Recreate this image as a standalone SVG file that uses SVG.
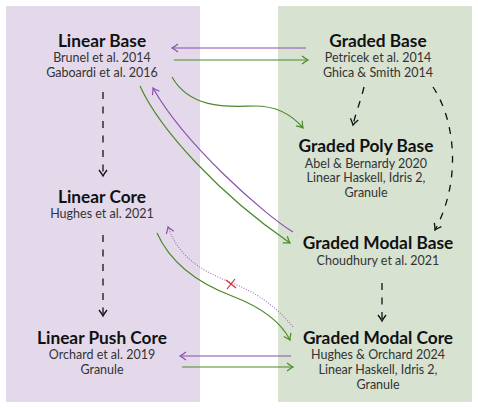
<svg xmlns="http://www.w3.org/2000/svg" width="478" height="408" viewBox="0 0 478 408">
<style>
.t{font-family:Lato,"Open Sans","DejaVu Sans",sans-serif;font-weight:bold;font-size:17.3px;fill:#111;text-anchor:middle}
.s{font-family:Lato,"Open Sans","DejaVu Sans",sans-serif;font-size:12.5px;fill:#333;text-anchor:middle}
.p{fill:none;stroke:#8a4fae;stroke-width:1.2}
.g{fill:none;stroke:#4a8a2a;stroke-width:1.2}
.d{fill:none;stroke:#111;stroke-width:1.3;stroke-dasharray:7 7.5}
.pd{fill:none;stroke:#9a6cc0;stroke-width:1.1;stroke-dasharray:1 1.6}
</style>
<defs>
<marker id="ap" viewBox="-8 -6 10 12" markerWidth="10" markerHeight="12" refX="0" refY="0" orient="auto" markerUnits="userSpaceOnUse"><path d="M-6,-4 Q-2,-1 0,0 Q-2,1 -6,4" fill="none" stroke="#8a4fae" stroke-width="1.2"/></marker>
<marker id="ag" viewBox="-8 -6 10 12" markerWidth="10" markerHeight="12" refX="0" refY="0" orient="auto" markerUnits="userSpaceOnUse"><path d="M-6,-4 Q-2,-1 0,0 Q-2,1 -6,4" fill="none" stroke="#4a8a2a" stroke-width="1.2"/></marker>
<marker id="ak" viewBox="-8 -6 10 12" markerWidth="10" markerHeight="12" refX="0" refY="0" orient="auto" markerUnits="userSpaceOnUse"><path d="M-6,-4 Q-2,-1 0,0 Q-2,1 -6,4" fill="none" stroke="#111" stroke-width="1.3"/></marker>
</defs>
<g id="panels">
<rect x="6" y="6" width="194" height="396" fill="#e4d9eb"/>
<rect x="278" y="6" width="194" height="396" fill="#d8e2d1"/>
</g>
<g id="linear-base">
<text class="t" x="102" y="47">Linear Base</text>
<text class="s" x="102" y="62">Brunel et al. 2014</text>
<text class="s" x="102" y="77">Gaboardi et al. 2016</text>
</g>
<g id="graded-base">
<text class="t" x="378" y="47">Graded Base</text>
<text class="s" x="378" y="62">Petricek et al. 2014</text>
<text class="s" x="378" y="77">Ghica &amp; Smith 2014</text>
</g>
<g id="graded-poly-base">
<text class="t" x="366" y="152">Graded Poly Base</text>
<text class="s" x="366" y="167.5">Abel &amp; Bernardy 2020</text>
<text class="s" x="366" y="182">Linear Haskell, Idris 2,</text>
<text class="s" x="366" y="196.5">Granule</text>
</g>
<g id="linear-core">
<text class="t" x="102" y="203">Linear Core</text>
<text class="s" x="102" y="218">Hughes et al. 2021</text>
</g>
<g id="graded-modal-base">
<text class="t" x="378" y="249">Graded Modal Base</text>
<text class="s" x="378" y="265">Choudhury et al. 2021</text>
</g>
<g id="linear-push-core">
<text class="t" x="102" y="344">Linear Push Core</text>
<text class="s" x="102" y="359">Orchard et al. 2019</text>
<text class="s" x="102" y="374">Granule</text>
</g>
<g id="graded-modal-core">
<text class="t" x="378" y="344">Graded Modal Core</text>
<text class="s" x="378" y="359">Hughes &amp; Orchard 2024</text>
<text class="s" x="378" y="374">Linear Haskell, Idris 2,</text>
<text class="s" x="378" y="389">Granule</text>
</g>
<g id="connectors">
<path class="p" d="M306,48 L172,48" marker-end="url(#ap)"/>
<path class="g" d="M174,60 L308,60" marker-end="url(#ag)"/>
<path class="g" d="M172,77 C192,112 235,106 255,106 C277,106 293,116 303,128" marker-end="url(#ag)"/>
<path class="p" d="M293,232 C265,215 185,145 153,88" marker-end="url(#ap)"/>
<path class="g" d="M140,86 C160,130 220,195 290,243" marker-end="url(#ag)"/>
<path class="g" d="M157,233 C170,262 195,282 232,296 C258,306 280,320 290,340" marker-end="url(#ag)"/>
<path class="pd" d="M293,327 C275,305 255,292 232,283 C205,272 180,260 168,227" marker-end="url(#ap)"/>
<path d="M226,280 L236,288 M227,289 L235,279" fill="none" stroke="#d42a2a" stroke-width="1.2"/>
<path class="p" d="M291,356 L180,356" marker-end="url(#ap)"/>
<path class="g" d="M182,367 L293,367" marker-end="url(#ag)"/>
<path class="d" d="M103,92 L103,176" marker-end="url(#ak)"/>
<path class="d" d="M103,235 L103,316" marker-end="url(#ak)"/>
<path class="d" d="M364,87 C361,100 356,112 353,125" marker-end="url(#ak)"/>
<path class="d" d="M433,87 C455,120 462,180 435,230" marker-end="url(#ak)"/>
<path class="d" d="M382,283 L382,321" marker-end="url(#ak)"/>
</g>
</svg>
